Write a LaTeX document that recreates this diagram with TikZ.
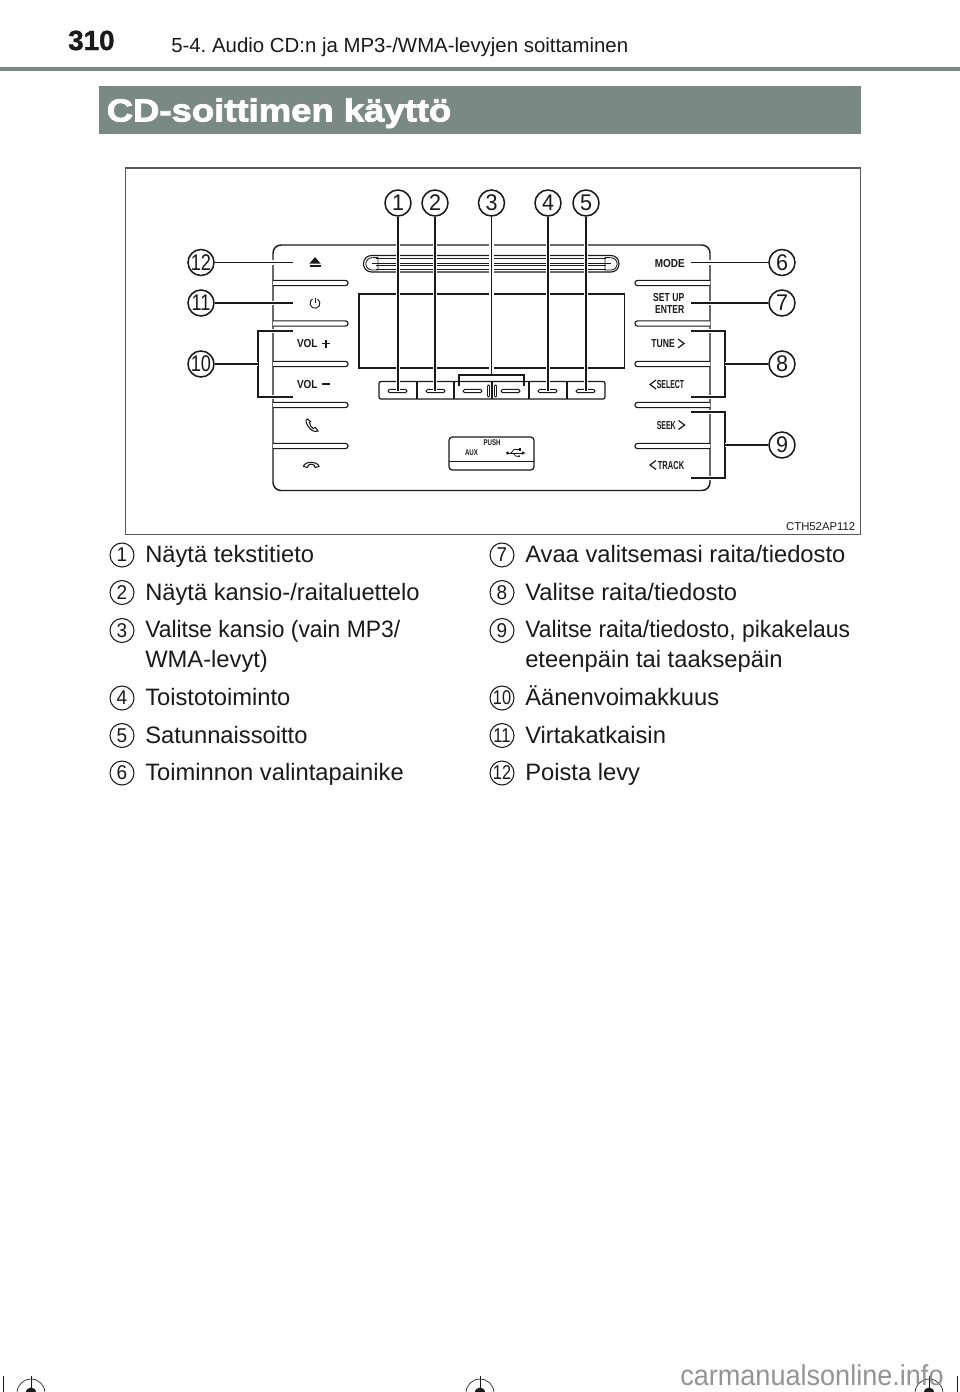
\documentclass[tikz,border=0pt]{standalone}
\usepackage{fontspec}
\setmainfont{Liberation Sans}
\newfontfamily\panela[FakeStretch=0.86]{Liberation Sans}
\newfontfamily\panelb[FakeStretch=0.74]{Liberation Sans}
\newfontfamily\panelc[FakeStretch=0.6]{Liberation Sans}
\newfontfamily\paneld[FakeStretch=0.65]{Liberation Sans}
\newfontfamily\digitf[FakeStretch=0.95]{Liberation Sans}
\newfontfamily\digitn[FakeStretch=0.8]{Liberation Sans}
\newfontfamily\digitm[FakeStretch=0.82]{Liberation Sans}
\newfontfamily\titlef[FakeStretch=1.14,FakeBold=2.5]{Liberation Sans}
\newfontfamily\pagenof[FakeBold=1.2]{Liberation Sans}
\newfontfamily\markf[FakeStretch=0.94]{Liberation Sans}
\newfontfamily\tightf[FakeStretch=0.963]{Liberation Sans}
\definecolor{band}{HTML}{7B8985}
\definecolor{ink}{HTML}{1A1A1A}
\frenchspacing
\tikzset{
  pic lines/.style={draw=ink,line width=0.95pt},
  leader/.style={draw=ink,line width=0.8pt,preaction={draw=white,line width=3.2pt}},
  callout/.style={circle,draw=ink,line width=1.15pt,fill=white,minimum size=19.5pt,inner sep=0pt,font=\digitf\fontsize{17}{17}\selectfont,text=ink},
  calloutn/.style={callout,font=\digitn\fontsize{17}{17}\selectfont},
  listmark/.style={circle,draw=ink,line width=0.8pt,fill=white,minimum size=18pt,inner sep=0pt,font=\digitf\fontsize{15}{15}\selectfont,text=ink},
  listmarkn/.style={listmark,font=\digitm\fontsize{15}{15}\selectfont},
  body/.style={anchor=base west,inner sep=0pt,font=\fontsize{17.8}{20}\selectfont,text=ink},
  tightbody/.style={anchor=base west,inner sep=0pt,font=\tightf\fontsize{17.8}{20}\selectfont,text=ink},
  panel/.style={anchor=base east,inner sep=0pt,font=\panela\bfseries\fontsize{8.7}{9}\selectfont,text=ink},
  panelB/.style={panel,font=\panelb\bfseries\fontsize{8.7}{9}\selectfont},
  panelC/.style={panel,font=\panelc\bfseries\fontsize{8.7}{9}\selectfont},
  panelD/.style={panel,font=\paneld\bfseries\fontsize{8.7}{9}\selectfont},
  tiny/.style={anchor=base,inner sep=0pt,font=\panelb\bfseries\fontsize{6.2}{7}\selectfont,text=ink},
}
\newcommand{\barL}[1]{\draw[pic lines,fill=white,line width=0.85pt] (273,#1-2.6) -- (345.5,#1-2.6) arc[start angle=90,end angle=-90,radius=1.95pt] -- (273,#1+2.6);}
\newcommand{\barR}[1]{\draw[pic lines,fill=white,line width=0.85pt] (710,#1-2.6) -- (637.5,#1-2.6) arc[start angle=90,end angle=270,radius=1.95pt] -- (710,#1+2.6);}
\newcommand{\pill}[2]{\draw[pic lines,line width=0.7pt,rounded corners=1.2pt] (#1,#2-1.7) rectangle (#1+19,#2+1.7);}
\begin{document}
\begin{tikzpicture}[x=0.75pt,y=-0.75pt]
\clip (0,0) rectangle (960,1392);
\fill[white] (0,0) rectangle (960,1392);
% header
\node[anchor=base west,inner sep=0pt,font=\pagenof\bfseries\fontsize{20.8}{22}\selectfont,text=ink] (pageno) at (68,50) {310};
\node[anchor=base west,inner sep=0pt,font=\fontsize{15.3}{17}\selectfont,text=ink] (head) at (171,52) {5-4. Audio CD:n ja MP3-/WMA-levyjen soittaminen};
\fill[band] (0,67) rectangle (960,70.5);
\fill[band] (99,86) rectangle (860.5,133.5);
\node[anchor=base west,inner sep=0pt,font=\titlef\bfseries\fontsize{24}{26}\selectfont,text=white] (title) at (106.5,121.5) {CD-soittimen käyttö};
% figure frame
\draw[draw=black!65,line width=0.8pt] (125.5,168) rectangle (860.5,534.5);
\node[anchor=base east,inner sep=0pt,font=\fontsize{8.5}{9}\selectfont,text=ink] (code) at (855.5,530) {CTH52AP112};
% panel
\draw[pic lines,line width=1.1pt,rounded corners=6pt] (273,245) rectangle (710,490.5);
\foreach \yy in {283,323.5,364,405,446}{\barL{\yy}\barR{\yy}}
% slot
\draw[pic lines,line width=0.85pt,rounded corners=6pt] (363.5,255.5) rectangle (619,272);
\foreach \yy in {258.3,263.3,265,269.3}{\draw[pic lines,line width=0.65pt] (376,\yy) -- (606,\yy);}
\draw[pic lines,line width=0.65pt] (378,257.5) -- (378,270) -- (372,270) arc[start angle=270,end angle=90,radius=4.6pt] -- cycle;
\draw[pic lines,line width=0.65pt] (605,257.5) -- (605,270) -- (611,270) arc[start angle=-90,end angle=90,radius=4.6pt] -- cycle;
\draw[pic lines,line width=0.65pt] (372,263.7) -- (378,263.7) (605,263.7) -- (611,263.7);
% display
\draw[pic lines] (359,294) rectangle (624.5,368);
% buttons
\draw[pic lines,rounded corners=1.5pt] (379,381.5) rectangle (605,399);
\foreach \xx in {417,454,492,529,567}{\draw[pic lines] (\xx,381.5) -- (\xx,399);}
\foreach \xx in {388,426,463,501,538,576}{\pill{\xx}{391}}
\draw[pic lines,line width=0.6pt,rounded corners=0.8pt] (487.5,385) rectangle (489.5,397);
\draw[pic lines,line width=0.6pt,rounded corners=0.8pt] (494.5,385) rectangle (496.5,397);
% aux box
\draw[pic lines,rounded corners=2.5pt] (449,437) rectangle (534,470);
\draw[pic lines,line width=0.7pt] (449,461) -- (534,461);
\node[tiny] (push) at (492,445.5) {PUSH};
\node[tiny] (aux) at (471.5,455.5) {AUX};
% usb
\draw[ink,line width=0.75pt] (507,453) -- (522,453);
\fill[ink] (507.5,453) circle[radius=1.6];
\draw[ink,line width=0.6pt] (511,453) -- (514,449.5) -- (519,449.5);
\draw[ink,line width=0.6pt] (513,453) -- (516,456.2) -- (519,456.2);
\fill[ink] (519,448.4) rectangle (521,450.6);
\fill[ink] (519,456.2) circle[radius=1.1];
\fill[ink] (522,451.3) -- (525.5,453) -- (522,454.7) -- cycle;
% left icons
\fill[ink] (315,257) -- (320.5,263.5) -- (309.5,263.5) -- cycle;
\fill[ink] (309.5,265) rectangle (320.5,267);
\draw[ink,line width=0.7pt] (317.5,299) arc[start angle=60,end angle=-240,radius=3.75pt];
\draw[ink,line width=0.7pt] (315,297.5) -- (315,303);
\node[panel,anchor=base west] (volp) at (296.8,347.8) {VOL};
\draw[ink,line width=0.9pt] (322,343.5) -- (330,343.5) (326,339.5) -- (326,347.5);
\node[panel,anchor=base west] (volm) at (296.8,388.8) {VOL};
\draw[ink,line width=0.9pt] (321.5,384) -- (330,384);
\draw[ink,line width=0.8pt,fill=white] (307.5,419) .. controls (305,420) and (306,423) .. (308,426) .. controls (310.5,430) and (314,432.5) .. (318,431) -- (315.5,427.5) -- (313,428.5) .. controls (311,427) and (309.5,424.5) .. (309.5,422.5) -- (310.5,421.5) -- cycle;
\draw[ink,line width=0.8pt,fill=white] (303.5,466.5) .. controls (304,461) and (318,461) .. (319,466.5) -- (315,467.5) -- (314,465) .. controls (312,464) and (310,464) .. (308.5,465) -- (307.5,467.5) -- cycle;
% right labels
\node[panel] (mode) at (685,267) {MODE};
\node[panelB] (setup) at (684.5,301.8) {SET UP};
\node[panelB] (enter) at (684.5,313) {ENTER};
\node[panelB] (tune) at (675,347.8) {TUNE};
\draw[ink,line width=0.9pt] (678,339) -- (684,343.5) -- (678,348);
\node[panelC] (select) at (684.5,388.8) {SELECT};
\draw[ink,line width=0.9pt] (656,380) -- (650,384.5) -- (656,389);
\node[panelC] (seek) at (676,429) {SEEK};
\draw[ink,line width=0.9pt] (678.5,420.5) -- (684.5,425) -- (678.5,429.5);
\node[panelD] (track) at (684.5,469.5) {TRACK};
\draw[ink,line width=0.9pt] (656,460.5) -- (650,465) -- (656,469.5);
% callouts
\node[callout] (c1) at (398,203) {1};
\node[callout] (c2) at (435,203) {2};
\node[callout] (c3) at (491.5,203) {3};
\node[callout] (c4) at (548,203) {4};
\node[callout] (c5) at (586,203) {5};
\node[callout] (c6) at (782,262.5) {6};
\node[callout] (c7) at (782,303) {7};
\node[callout] (c8) at (782,364) {8};
\node[callout] (c9) at (782,445) {9};
\node[calloutn] (c10) at (201,364) {10};
\node[calloutn] (c11) at (201,303) {11};
\node[calloutn] (c12) at (201,262.5) {12};
% leader ends
\coordinate (e1) at (398,391);
\coordinate (e2) at (435,391);
\coordinate (e3) at (491.5,375);
\coordinate (e4) at (548,391);
\coordinate (e5) at (586,391);
\coordinate (e6) at (691,262.5);
\coordinate (e7) at (691,303);
\coordinate (e11) at (293,303);
\coordinate (e12) at (293,262.5);
\foreach \n in {1,2,3,4,5,6,7,11,12}{\draw[leader] (c\n) -- (e\n);}
% centre bracket
\draw[pic lines,line width=0.85pt] (459,386) -- (459,375) -- (524,375) -- (524,386);
% side brackets
\draw[leader] (293,331) -- (258,331) -- (258,397) -- (293,397);
\draw[leader] (c10) -- (258,364);
\draw[leader] (691,331) -- (725,331) -- (725,397) -- (691,397);
\draw[leader] (c8) -- (725,364);
\draw[leader] (691,412) -- (725,412) -- (725,478) -- (691,478);
\draw[leader] (c9) -- (725,445);
% list left
\node[listmark] (m1) at (122,555) {1};
\node[body] (t1) at (145,562.5) {Näytä tekstitieto};
\node[listmark] (m2) at (122,592.5) {2};
\node[body] (t2) at (145,600) {Näytä kansio-/raitaluettelo};
\node[listmark] (m3) at (122,630.5) {3};
\node[tightbody] (t3) at (145,637.5) {Valitse kansio (vain MP3/};
\node[body] (t3b) at (145,667.5) {WMA-levyt)};
\node[listmark] (m4) at (122,698) {4};
\node[body] (t4) at (145,705.5) {Toistotoiminto};
\node[listmark] (m5) at (122,735.5) {5};
\node[body] (t5) at (145,743) {Satunnaissoitto};
\node[listmark] (m6) at (122,773) {6};
\node[body] (t6) at (145,780.5) {Toiminnon valintapainike};
% list right
\node[listmark] (m7) at (502,555) {7};
\node[body] (t7) at (525,562.5) {Avaa valitsemasi raita/tiedosto};
\node[listmark] (m8) at (502,592.5) {8};
\node[body] (t8) at (525,600) {Valitse raita/tiedosto};
\node[listmark] (m9) at (502,630.5) {9};
\node[tightbody] (t9) at (525,637.5) {Valitse raita/tiedosto, pikakelaus};
\node[body] (t9b) at (525,667.5) {eteenpäin tai taaksepäin};
\node[listmarkn] (m10) at (502,698) {10};
\node[body] (t10) at (525,705.5) {Äänenvoimakkuus};
\node[listmarkn] (m11) at (502,735.5) {11};
\node[body] (t11) at (525,743) {Virtakatkaisin};
\node[listmarkn] (m12) at (502,773) {12};
\node[body] (t12) at (525,780.5) {Poista levy};
% crop marks
\foreach \xx in {31,480,929}{
  \draw[ink,line width=0.5pt] (\xx,1376) -- (\xx,1392);
  \draw[ink,line width=0.5pt] (\xx,1393) circle[radius=14];
  \fill[ink] (\xx,1393) circle[radius=5.5];
}
\draw[ink,line width=0.5pt] (3,1376) -- (3,1392);
\draw[ink,line width=0.5pt] (957,1376) -- (957,1392);
\node[anchor=base west,inner sep=0pt,font=\markf\fontsize{21.6}{22}\selectfont,text=black!42] (wm) at (680,1385) {carmanualsonline.info};
\end{tikzpicture}
\end{document}
